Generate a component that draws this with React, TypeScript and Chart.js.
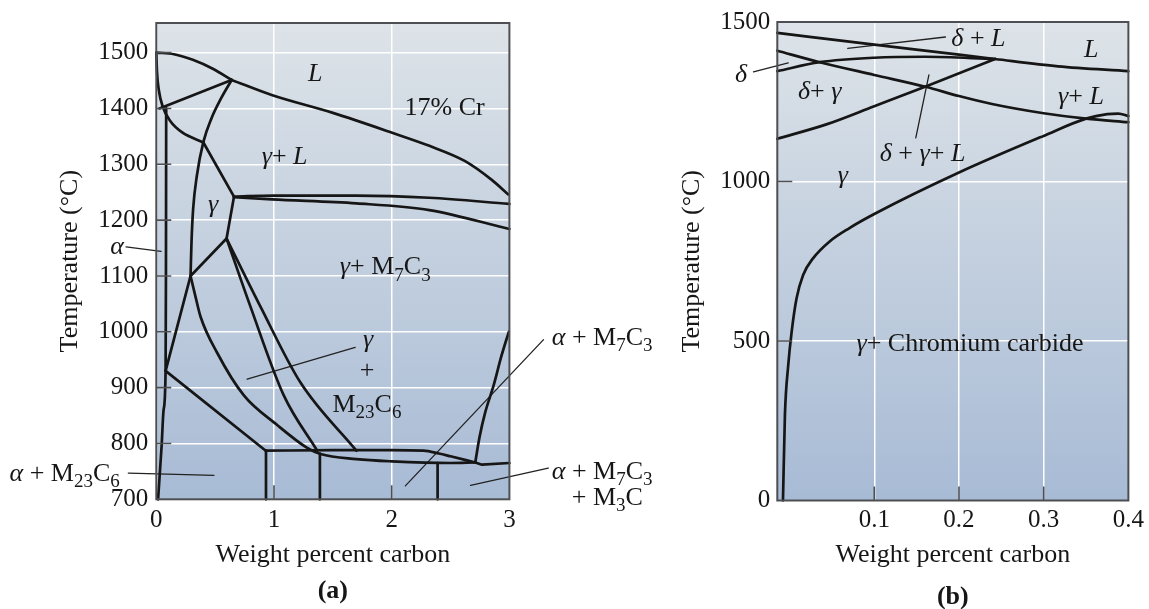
import React, { useEffect, useRef } from 'react';
import { Chart, registerables } from 'chart.js';
Chart.register(...registerables);

// ---------------- Panel (a): Fe–17% Cr–C ----------------
const A_X_TICKS = [0, 1, 2, 3];
const A_Y_TICKS = [700, 800, 900, 1000, 1100, 1200, 1300, 1400, 1500];
const A_X_INNER = [1, 2];
const A_Y_INNER = [800, 900, 1000, 1100, 1200, 1300, 1400, 1500];

const A_LIQUIDUS_UPPER = [[0, 1500], [0.15, 1497], [0.31, 1487], [0.48, 1471], [0.64, 1451]];
const A_LIQUIDUS = [[0.64, 1451], [0.98, 1424], [1.5, 1392], [2.01, 1356], [2.32, 1333], [2.62, 1306], [2.85, 1272], [2.99, 1246]];
const A_DELTA_SOLIDUS = [[0, 1500], [0.006, 1465], [0.022, 1432], [0.055, 1403], [0.12, 1377], [0.22, 1357], [0.4, 1339]];
const A_DELTA_GAMMA = [[0.027, 1400], [0.64, 1451]];
const A_GAMMA_SOLIDUS = [[0.4, 1339], [0.66, 1242]];
const A_ALPHA_BOUNDARY = [[0.015, 700], [0.045, 795], [0.062, 860], [0.079, 930], [0.082, 1100], [0.084, 1400]];
const A_GAMMA_LEFT = [[0.291, 1100], [0.299, 1160], [0.313, 1220], [0.345, 1280], [0.4, 1340], [0.47, 1383], [0.55, 1418], [0.64, 1451]];
const A_GAMMA_LOWER = [[0.291, 1100], [0.334, 1062], [0.376, 1027], [0.518, 962], [0.744, 886], [1.027, 833], [1.282, 792], [1.395, 781], [1.7, 772], [2.0, 768], [2.5, 765], [2.71, 766]];
const A_GAMMA_VERTEX = [[0.66, 1242], [0.597, 1167], [0.291, 1100]];
const A_ALPHA_GAMMA = [[0.291, 1100], [0.079, 930]];
const A_ALPHA_CARBIDE = [[0.079, 930], [0.93, 787]];
const A_EUTECTOID = [[0.93, 787], [1.5, 788], [2.0, 788], [2.27, 787], [2.4, 782], [2.5, 777], [2.71, 766]];
const A_RIGHT_FOOT = [[2.71, 766], [2.767, 762], [3.0, 765]];
const A_M7C3_BOUNDARY = [[2.71, 766], [2.745, 810], [2.795, 856], [2.866, 904], [2.93, 955], [2.995, 1000]];
const A_MID_LINE = [[0.597, 1167], [0.8, 1045], [1.083, 886], [1.367, 787]];
const A_RIGHT_LINE = [[0.597, 1167], [0.885, 1045], [1.225, 909], [1.7, 787]];
const A_EUTECTIC_UPPER = [[0.66, 1242], [1.0, 1244], [1.7, 1244], [2.32, 1240], [3.0, 1229]];
const A_EUTECTIC_LOWER = [[0.66, 1241], [0.98, 1237], [1.7, 1230], [2.32, 1218], [3.0, 1184]];
const A_VERT_1 = [[0.932, 787], [0.932, 700]];
const A_VERT_2 = [[1.39, 782], [1.39, 700]];
const A_VERT_3 = [[2.39, 765], [2.39, 700]];

const A_LEAD_ALPHA = [[-0.257, 1152], [0.04, 1144]];
const A_LEAD_ALPHA_M23 = [[-0.238, 747], [0.49, 743]];
const A_LEAD_GAMMA_M23 = [[0.772, 915], [1.69, 972]];
const A_LEAD_ALPHA_M7 = [[2.116, 724], [3.29, 986]];
const A_LEAD_ALPHA_M7_M3 = [[2.67, 725], [3.33, 756]];

// ---------------- Panel (b): low-carbon detail ----------------
const B_X_TICKS = [0.1, 0.2, 0.3, 0.4];
const B_Y_TICKS = [0, 500, 1000, 1500];
const B_X_INNER = [0.1, 0.2, 0.3];
const B_Y_INNER = [500, 1000];

const B_LIQUIDUS = [[-0.0145, 1466], [0.1, 1429], [0.2, 1398], [0.2426, 1384], [0.317, 1361], [0.4, 1346]];
const B_DELTA_LOWER = [[-0.0145, 1410], [0.0355, 1374], [0.1, 1334], [0.1605, 1297], [0.2, 1268], [0.239, 1243], [0.3, 1214], [0.35, 1197], [0.4, 1186]];
const B_DELTA_UPPER = [[-0.0145, 1346], [0.0355, 1374], [0.1, 1388], [0.16, 1391], [0.2426, 1384]];
const B_DELTA_GAMMA = [[-0.0145, 1134], [0.0434, 1179], [0.1, 1236], [0.16, 1297], [0.2426, 1384]];
const B_SOLVUS = [[-0.0078, 0], [-0.0055, 268], [-0.0016, 424], [0.0024, 528], [0.0082, 633], [0.016, 707], [0.0277, 759], [0.0473, 812], [0.0707, 854], [0.1, 898], [0.2, 1028], [0.3, 1143], [0.35, 1197], [0.375, 1211], [0.388, 1213], [0.4, 1205]];

const B_LEAD_DELTA_L = [[0.0687, 1417], [0.184, 1453]];
const B_LEAD_DELTA = [[-0.0426, 1344], [-0.0016, 1372]];
const B_LEAD_DGL = [[0.1645, 1334], [0.149, 1137]];

// ---------------- Text ----------------
type Seg = { t: string; i?: boolean; s?: boolean };
type Label = { x: number; y: number; a: 'left' | 'center' | 'right'; segs: Seg[] };
const it = (t: string): Seg => ({ t, i: true });
const rm = (t: string): Seg => ({ t });
const sb = (t: string): Seg => ({ t, s: true });

const A_LABELS: Label[] = [
  { x: 1.35, y: 1465, a: 'center', segs: [it('L')] },
  { x: 2.45, y: 1403, a: 'center', segs: [rm('17% Cr')] },
  { x: 1.09, y: 1315, a: 'center', segs: [it('γ'), rm('+ '), it('L')] },
  { x: 0.483, y: 1230, a: 'center', segs: [it('γ')] },
  { x: 1.945, y: 1118, a: 'center', segs: [it('γ'), rm('+ M'), sb('7'), rm('C'), sb('3')] },
  { x: 1.80, y: 989, a: 'center', segs: [it('γ')] },
  { x: 1.79, y: 933, a: 'center', segs: [rm('+')] },
  { x: 1.79, y: 872, a: 'center', segs: [rm('M'), sb('23'), rm('C'), sb('6')] },
  { x: -0.333, y: 1154, a: 'center', segs: [it('α')] },
  { x: -0.31, y: 748, a: 'right', segs: [it('α'), rm(' + M'), sb('23'), rm('C'), sb('6')] },
  { x: 3.36, y: 992, a: 'left', segs: [it('α'), rm(' + M'), sb('7'), rm('C'), sb('3')] },
  { x: 3.36, y: 752, a: 'left', segs: [it('α'), rm(' + M'), sb('7'), rm('C'), sb('3')] },
  { x: 3.53, y: 705, a: 'left', segs: [rm('+ M'), sb('3'), rm('C')] },
];

const B_LABELS: Label[] = [
  { x: 0.223, y: 1453, a: 'center', segs: [it('δ'), rm(' + '), it('L')] },
  { x: 0.356, y: 1417, a: 'center', segs: [it('L')] },
  { x: -0.0574, y: 1339, a: 'center', segs: [it('δ')] },
  { x: 0.0355, y: 1287, a: 'center', segs: [it('δ'), rm('+ '), it('γ')] },
  { x: 0.344, y: 1271, a: 'center', segs: [it('γ'), rm('+ '), it('L')] },
  { x: 0.157, y: 1090, a: 'center', segs: [it('δ'), rm(' + '), it('γ'), rm('+ '), it('L')] },
  { x: 0.063, y: 1023, a: 'center', segs: [it('γ')] },
  { x: 0.213, y: 494, a: 'center', segs: [it('γ'), rm('+ Chromium carbide')] },
];

const FAM = '"Liberation Serif", "Times New Roman", Times, serif';
const INK = '#161616';
const FRAME = '#4d4f52';

function drawRich(ctx: CanvasRenderingContext2D, segs: Seg[], x: number, y: number, align: string, size: number) {
  const fontOf = (sg: Seg) => `${sg.i ? 'italic ' : ''}${sg.s ? Math.round(size * 0.72) : size}px ${FAM}`;
  let total = 0;
  const widths = segs.map((sg) => {
    ctx.font = fontOf(sg);
    const w = ctx.measureText(sg.t).width;
    total += w;
    return w;
  });
  let cx = align === 'left' ? x : align === 'right' ? x - total : x - total / 2;
  ctx.textAlign = 'left';
  ctx.textBaseline = 'alphabetic';
  ctx.fillStyle = INK;
  const base = y + size * 0.33;
  segs.forEach((sg, k) => {
    ctx.font = fontOf(sg);
    ctx.fillText(sg.t, cx, base + (sg.s ? size * 0.24 : 0));
    cx += widths[k];
  });
}

type Line = { pts: number[][]; kind: 'curve' | 'poly' | 'lead' };

type PanelCfg = {
  width: number;
  height: number;
  padding: { left: number; right: number; top: number; bottom: number };
  yWidth: number;
  xMin: number; xMax: number; yMin: number; yMax: number;
  xTicks: number[]; yTicks: number[];
  xInner: number[]; yInner: number[];
  lines: Line[];
  labels: Label[];
  panel: string;
  panelY: number;
  yTitlePad: number;
  xTitlePad: number;
  xTickPad: number;
  yTickPad: number;
};

const PANEL_A: PanelCfg = {
  width: 670, height: 609,
  padding: { left: 54.3, right: 160.6, top: 15, bottom: 29.7 },
  yWidth: 102,
  xMin: 0, xMax: 3, yMin: 700, yMax: 1553,
  xTicks: A_X_TICKS, yTicks: A_Y_TICKS, xInner: A_X_INNER, yInner: A_Y_INNER,
  lines: [
    { pts: A_LIQUIDUS_UPPER, kind: 'curve' },
    { pts: A_LIQUIDUS, kind: 'curve' },
    { pts: A_DELTA_SOLIDUS, kind: 'curve' },
    { pts: A_DELTA_GAMMA, kind: 'poly' },
    { pts: A_GAMMA_SOLIDUS, kind: 'poly' },
    { pts: A_ALPHA_BOUNDARY, kind: 'curve' },
    { pts: A_GAMMA_LEFT, kind: 'curve' },
    { pts: A_GAMMA_LOWER, kind: 'curve' },
    { pts: A_GAMMA_VERTEX, kind: 'poly' },
    { pts: A_ALPHA_GAMMA, kind: 'poly' },
    { pts: A_ALPHA_CARBIDE, kind: 'poly' },
    { pts: A_EUTECTOID, kind: 'curve' },
    { pts: A_RIGHT_FOOT, kind: 'poly' },
    { pts: A_M7C3_BOUNDARY, kind: 'curve' },
    { pts: A_MID_LINE, kind: 'curve' },
    { pts: A_RIGHT_LINE, kind: 'curve' },
    { pts: A_EUTECTIC_UPPER, kind: 'curve' },
    { pts: A_EUTECTIC_LOWER, kind: 'curve' },
    { pts: A_VERT_1, kind: 'poly' },
    { pts: A_VERT_2, kind: 'poly' },
    { pts: A_VERT_3, kind: 'poly' },
    { pts: A_LEAD_ALPHA, kind: 'lead' },
    { pts: A_LEAD_ALPHA_M23, kind: 'lead' },
    { pts: A_LEAD_GAMMA_M23, kind: 'lead' },
    { pts: A_LEAD_ALPHA_M7, kind: 'lead' },
    { pts: A_LEAD_ALPHA_M7_M3, kind: 'lead' },
  ],
  labels: A_LABELS,
  panel: '(a)',
  panelY: 591,
  yTitlePad: 0,
  xTitlePad: 8.7,
  xTickPad: 6,
  yTickPad: 8,
};

const PANEL_B: PanelCfg = {
  width: 479, height: 609,
  padding: { left: 0, right: 18, top: 18, bottom: 28.5 },
  yWidth: 107.3,
  xMin: -0.0145, xMax: 0.4, yMin: 0, yMax: 1500,
  xTicks: B_X_TICKS, yTicks: B_Y_TICKS, xInner: B_X_INNER, yInner: B_Y_INNER,
  lines: [
    { pts: B_LIQUIDUS, kind: 'curve' },
    { pts: B_DELTA_LOWER, kind: 'curve' },
    { pts: B_DELTA_UPPER, kind: 'curve' },
    { pts: B_DELTA_GAMMA, kind: 'curve' },
    { pts: B_SOLVUS, kind: 'curve' },
    { pts: B_LEAD_DELTA_L, kind: 'lead' },
    { pts: B_LEAD_DELTA, kind: 'lead' },
    { pts: B_LEAD_DGL, kind: 'lead' },
  ],
  labels: B_LABELS,
  panel: '(b)',
  panelY: 597,
  yTitlePad: 6.4,
  xTitlePad: 9.9,
  xTickPad: 5,
  yTickPad: 7,
};

function buildConfig(cfg: PanelCfg): any {
  const decor = {
    id: 'phaseDecor',
    beforeDraw(chart: any) {
      const { ctx, chartArea: ca } = chart;
      if (!ca) return;
      const grad = ctx.createLinearGradient(0, ca.top, 0, ca.bottom);
      grad.addColorStop(0, '#dde3e8');
      grad.addColorStop(1, '#a8bbd5');
      ctx.save();
      ctx.fillStyle = grad;
      ctx.fillRect(ca.left, ca.top, ca.right - ca.left, ca.bottom - ca.top);
      ctx.restore();
    },
    afterDatasetsDraw(chart: any) {
      const { ctx, chartArea: ca, scales } = chart;
      ctx.save();
      ctx.strokeStyle = FRAME;
      ctx.lineWidth = 1.6;
      ctx.beginPath();
      for (const v of cfg.xInner) {
        const px = scales.x.getPixelForValue(v);
        ctx.moveTo(px, ca.bottom);
        ctx.lineTo(px, ca.bottom - 14);
      }
      for (const v of cfg.yInner) {
        const py = scales.y.getPixelForValue(v);
        ctx.moveTo(ca.left, py);
        ctx.lineTo(ca.left + 15, py);
      }
      ctx.stroke();
      ctx.lineWidth = 2;
      ctx.strokeRect(ca.left, ca.top, ca.right - ca.left, ca.bottom - ca.top);
      ctx.restore();
    },
    afterDraw(chart: any) {
      const { ctx, chartArea: ca, scales } = chart;
      ctx.save();
      for (const lb of cfg.labels) {
        drawRich(ctx, lb.segs, scales.x.getPixelForValue(lb.x), scales.y.getPixelForValue(lb.y), lb.a, 26);
      }
      ctx.font = `bold 26px ${FAM}`;
      ctx.textAlign = 'center';
      ctx.textBaseline = 'middle';
      ctx.fillStyle = INK;
      ctx.fillText(cfg.panel, (ca.left + ca.right) / 2, cfg.panelY);
      ctx.restore();
    },
  };

  const datasets = cfg.lines.map((ln) => ({
    data: ln.pts.map(([x, y]) => ({ x, y })),
    showLine: true,
    fill: false,
    pointRadius: 0,
    pointHoverRadius: 0,
    borderColor: ln.kind === 'lead' ? '#222222' : INK,
    borderWidth: ln.kind === 'lead' ? 1.3 : 2.7,
    tension: 0,
    cubicInterpolationMode: ln.kind === 'curve' ? 'monotone' : 'default',
    clip: ln.kind === 'lead' ? false : 3,
    borderCapStyle: 'round',
    borderJoinStyle: 'round',
  }));

  return {
    type: 'scatter',
    data: { datasets },
    plugins: [decor],
    options: {
      animation: false,
      responsive: false,
      events: [],
      layout: { padding: cfg.padding },
      plugins: { legend: { display: false }, tooltip: { enabled: false } },
      scales: {
        x: {
          type: 'linear',
          min: cfg.xMin,
          max: cfg.xMax,
          afterBuildTicks: (s: any) => { s.ticks = cfg.xTicks.map((v) => ({ value: v })); },
          afterFit: (s: any) => { s.height = 80; },
          grid: { color: '#ffffff', lineWidth: 1.5, drawTicks: false },
          border: { display: false },
          ticks: {
            padding: cfg.xTickPad,
            color: INK,
            font: { family: FAM, size: 25 },
            maxRotation: 0,
            callback: (v: any) => String(v),
          },
          title: {
            display: true,
            text: 'Weight percent carbon',
            color: INK,
            font: { family: FAM, size: 26 },
            padding: { top: 0, bottom: cfg.xTitlePad },
          },
        },
        y: {
          type: 'linear',
          min: cfg.yMin,
          max: cfg.yMax,
          afterBuildTicks: (s: any) => { s.ticks = cfg.yTicks.map((v) => ({ value: v })); },
          afterFit: (s: any) => { s.width = cfg.yWidth; },
          grid: { color: '#ffffff', lineWidth: 1.5, drawTicks: false },
          border: { display: false },
          ticks: {
            padding: cfg.yTickPad,
            color: INK,
            font: { family: FAM, size: 25 },
            callback: (v: any) => String(v),
          },
          title: {
            display: true,
            text: 'Temperature (°C)',
            color: INK,
            font: { family: FAM, size: 26 },
            padding: { top: cfg.yTitlePad, bottom: 0 },
          },
        },
      },
    },
  };
}

function Panel({ cfg, left }: { cfg: PanelCfg; left: number }) {
  const ref = useRef<HTMLCanvasElement | null>(null);
  useEffect(() => {
    if (!ref.current) return;
    const chart = new Chart(ref.current, buildConfig(cfg));
    return () => chart.destroy();
  }, [cfg]);
  return (
    <canvas
      ref={ref}
      width={cfg.width}
      height={cfg.height}
      style={{ position: 'absolute', left, top: 0, width: cfg.width, height: cfg.height }}
    />
  );
}

export default function App() {
  return (
    <div style={{ position: 'fixed', left: 0, top: 0, width: 1149, height: 609, background: '#ffffff', overflow: 'hidden' }}>
      <Panel cfg={PANEL_A} left={0} />
      <Panel cfg={PANEL_B} left={670} />
    </div>
  );
}
